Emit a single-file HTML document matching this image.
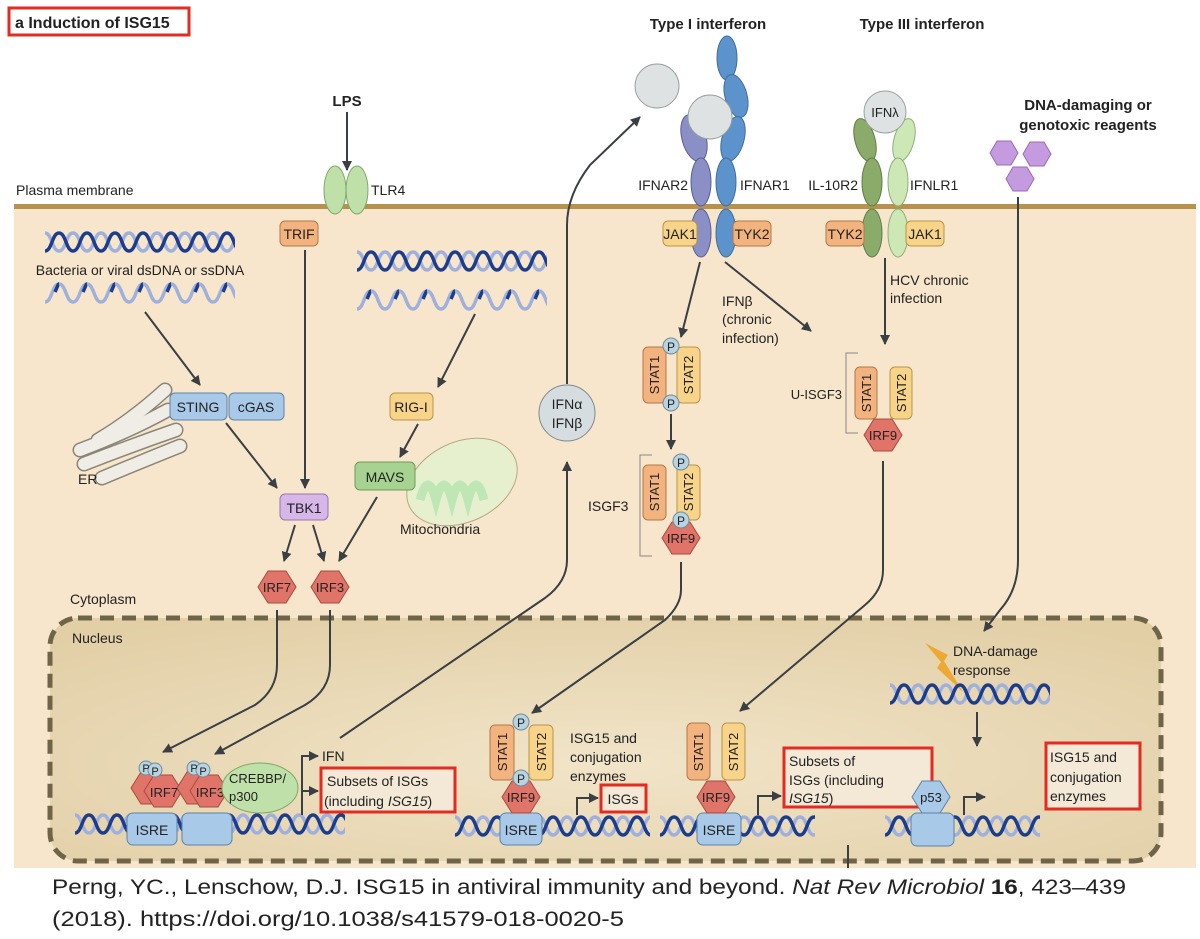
<!DOCTYPE html>
<html><head><meta charset="utf-8"><style>
html,body{margin:0;padding:0;background:#fff}
svg{display:block}
text{font-family:"Liberation Sans",sans-serif;fill:#222}
.l{font-size:14px}
.s{font-size:13px}
.b{font-weight:bold}
</style></head><body>
<svg width="1200" height="939" viewBox="0 0 1200 939" xmlns="http://www.w3.org/2000/svg">
<defs>
<pattern id="dh" patternUnits="userSpaceOnUse" width="28" height="22">
<path d="M0,2 C7,2 7,20 14,20 C21,20 21,2 28,2" stroke="#9fb0dc" stroke-width="3.5" fill="none"/>
<path d="M0,20 C7,20 7,2 14,2 C21,2 21,20 28,20" stroke="#1c3d8c" stroke-width="3.5" fill="none"/>
</pattern>
<pattern id="ss" patternUnits="userSpaceOnUse" width="28" height="22">
<path d="M0,20 C7,20 7,2 14,2 C21,2 21,20 28,20" stroke="#9fb0dc" stroke-width="3.5" fill="none"/>
<path d="M10,10 C12,6 13,2 14,2" stroke="#1c3d8c" stroke-width="3.5" fill="none"/>
</pattern>
<marker id="ar" viewBox="0 0 10 10" refX="9" refY="5" markerWidth="5" markerHeight="5" orient="auto"><path d="M0,0 L10,5 L0,10 z" fill="#3a3f44"/></marker>
<path id="hx" d="M-19,0 L-9,-16 L9,-16 L19,0 L9,16 L-9,16 Z"/>
<path id="hs" d="M-14,0 L-7,-12 L7,-12 L14,0 L7,12 L-7,12 Z"/>
<radialGradient id="nuc" cx="0.5" cy="0.6" r="0.7"><stop offset="0" stop-color="#f1e4c8"/><stop offset="1" stop-color="#e2cfa6"/></radialGradient>
</defs>

<rect x="9" y="8" width="180" height="27" fill="#fff" stroke="#e32b22" stroke-width="3"/>
<text x="15" y="28" class="b" font-size="16">a  Induction of ISG15</text>
<text x="708" y="29" class="b" font-size="15" text-anchor="middle">Type I interferon</text>
<text x="922" y="29" class="b" font-size="15" text-anchor="middle">Type III interferon</text>
<text x="347" y="106" class="b" font-size="15" text-anchor="middle">LPS</text>
<line x1="347" y1="112" x2="347" y2="170" stroke="#3a3f44" stroke-width="2" marker-end="url(#ar)"/>
<text x="1088" y="110" class="b" font-size="15" text-anchor="middle">DNA-damaging or</text>
<text x="1088" y="130" class="b" font-size="15" text-anchor="middle">genotoxic reagents</text>
<g fill="#c59be0" stroke="#9a6ab8"><use href="#hs" x="1004" y="153"/><use href="#hs" x="1037" y="154"/><use href="#hs" x="1020" y="179"/></g>

<rect x="14" y="207" width="1182" height="661" fill="#f7e6cb"/>
<rect x="14" y="204" width="1182" height="5" fill="#b8924c"/>
<text x="16" y="195" class="l">Plasma membrane</text>

<rect x="50" y="618" width="1111" height="243" rx="28" fill="url(#nuc)" stroke="#6f6448" stroke-width="5" stroke-dasharray="14 8"/>
<text x="70" y="604" class="l">Cytoplasm</text>
<text x="72" y="643" class="l">Nucleus</text>

<g fill="#bfe0a8" stroke="#7fa86a"><ellipse cx="335" cy="190" rx="11" ry="24"/><ellipse cx="357" cy="190" rx="11" ry="24"/></g>
<text x="371" y="195" class="l">TLR4</text>
<rect x="280" y="221" width="38" height="25" rx="5" fill="#f2b37e" stroke="#b07a48"/><text x="299" y="239" class="l" text-anchor="middle">TRIF</text>

<g transform="translate(45,231)"><rect width="190" height="22" fill="url(#dh)"/></g>
<text x="140" y="275" class="l" text-anchor="middle">Bacteria or viral dsDNA or ssDNA</text>
<g transform="translate(45,282)"><rect width="190" height="22" fill="url(#ss)"/></g>
<g transform="translate(357,250)"><rect width="190" height="22" fill="url(#dh)"/></g>
<g transform="translate(357,289)"><rect width="190" height="22" fill="url(#ss)"/></g>

<!-- ER -->
<g fill="none" stroke-linecap="round">
<g stroke="#8a8578" stroke-width="15">
<path d="M102,478 Q140,462 180,446"/><path d="M84,464 Q130,446 176,430"/><path d="M80,450 Q128,432 168,410"/><path d="M98,440 Q132,420 165,390"/>
</g>
<g stroke="#efede6" stroke-width="12">
<path d="M102,478 Q140,462 180,446"/><path d="M84,464 Q130,446 176,430"/><path d="M80,450 Q128,432 168,410"/><path d="M98,440 Q132,420 165,390"/>
</g>
</g>
<text x="78" y="484" class="l">ER</text>

<line x1="145" y1="312" x2="200" y2="385" stroke="#3a3f44" stroke-width="2" marker-end="url(#ar)"/>
<rect x="170" y="393" width="57" height="27" rx="5" fill="#a9c9e8" stroke="#5d83a8"/><text x="198" y="412" class="l" text-anchor="middle">STING</text>
<rect x="229" y="393" width="55" height="27" rx="5" fill="#a9c9e8" stroke="#5d83a8"/><text x="256" y="412" class="l" text-anchor="middle">cGAS</text>
<line x1="226" y1="423" x2="277" y2="488" stroke="#3a3f44" stroke-width="2" marker-end="url(#ar)"/>
<line x1="305" y1="250" x2="305" y2="488" stroke="#3a3f44" stroke-width="2" marker-end="url(#ar)"/>
<rect x="280" y="494" width="48" height="26" rx="5" fill="#d7b6e8" stroke="#9a74b0"/><text x="304" y="513" class="l" text-anchor="middle">TBK1</text>

<line x1="475" y1="314" x2="438" y2="387" stroke="#3a3f44" stroke-width="2" marker-end="url(#ar)"/>
<rect x="390" y="393" width="43" height="27" rx="5" fill="#f8d48a" stroke="#b9954a"/><text x="411" y="412" class="l" text-anchor="middle">RIG-I</text>
<line x1="418" y1="424" x2="400" y2="457" stroke="#3a3f44" stroke-width="2" marker-end="url(#ar)"/>
<ellipse cx="462" cy="482" rx="58" ry="40" transform="rotate(-25 462 482)" fill="#e6f0cf" stroke="#b7a780"/>
<path d="M420,500 q8,-30 16,0 q8,-30 16,0 q8,-30 16,0 q8,-30 16,0" stroke="#bfe7b6" stroke-width="9" fill="none"/>
<rect x="355" y="462" width="60" height="28" rx="5" fill="#a6d390" stroke="#6f9a5c"/><text x="385" y="482" class="l" text-anchor="middle">MAVS</text>
<text x="400" y="534" class="l">Mitochondria</text>

<line x1="295" y1="525" x2="284" y2="561" stroke="#3a3f44" stroke-width="2" marker-end="url(#ar)"/>
<line x1="313" y1="525" x2="324" y2="561" stroke="#3a3f44" stroke-width="2" marker-end="url(#ar)"/>
<line x1="377" y1="497" x2="339" y2="561" stroke="#3a3f44" stroke-width="2" marker-end="url(#ar)"/>
<g fill="#e07468" stroke="#a84a40"><use href="#hx" x="277" y="587"/><use href="#hx" x="330" y="587"/></g>
<text x="277" y="592" class="s" text-anchor="middle">IRF7</text><text x="330" y="592" class="s" text-anchor="middle">IRF3</text>

<path d="M277,610 L277,665 Q277,690 255,705 L163,752" stroke="#3a3f44" stroke-width="2" fill="none" marker-end="url(#ar)"/>
<path d="M330,610 L330,665 Q330,690 305,705 L215,754" stroke="#3a3f44" stroke-width="2" fill="none" marker-end="url(#ar)"/>

<path d="M340,738 L545,598 Q567,582 567,560 L567,462" stroke="#3a3f44" stroke-width="2" fill="none" marker-end="url(#ar)"/>
<circle cx="567" cy="413" r="28" fill="#d6dde0" stroke="#7c8a90"/>
<text x="567" y="409" class="l" text-anchor="middle">IFNα</text><text x="567" y="428" class="l" text-anchor="middle">IFNβ</text>
<path d="M567,384 L567,225 Q567,195 590,165 L640,117" stroke="#3a3f44" stroke-width="2" fill="none" marker-end="url(#ar)"/>
<circle cx="657" cy="86" r="22" fill="#dfe2e2" stroke="#9aa0a0"/>

<g fill="#8a8fc6" stroke="#5a5e96"><ellipse cx="694" cy="138" rx="12" ry="24" transform="rotate(-15 694 138)"/><ellipse cx="701" cy="182" rx="10" ry="24"/><ellipse cx="701" cy="233" rx="10" ry="24"/></g>
<g fill="#5d93cc" stroke="#3e6e9e"><ellipse cx="727" cy="58" rx="10" ry="22"/><ellipse cx="736" cy="96" rx="11" ry="22" transform="rotate(-15 736 96)"/><ellipse cx="733" cy="139" rx="11" ry="23" transform="rotate(15 733 139)"/><ellipse cx="726" cy="182" rx="10" ry="24"/><ellipse cx="726" cy="233" rx="10" ry="24"/></g>
<circle cx="710" cy="117" r="22" fill="#dfe2e2" stroke="#9aa0a0"/>
<text x="688" y="190" class="l" text-anchor="end">IFNAR2</text><text x="740" y="190" class="l">IFNAR1</text>
<rect x="663" y="221" width="34" height="25" rx="5" fill="#f8d48a" stroke="#b9954a"/><text x="680" y="239" class="l" text-anchor="middle">JAK1</text>
<rect x="733" y="221" width="38" height="25" rx="5" fill="#f2b37e" stroke="#b07a48"/><text x="752" y="239" class="l" text-anchor="middle">TYK2</text>

<g fill="#8aab6a" stroke="#5e7e48"><ellipse cx="865" cy="140" rx="10" ry="22" transform="rotate(-15 865 140)"/><ellipse cx="872" cy="182" rx="10" ry="24"/><ellipse cx="872" cy="233" rx="10" ry="24"/></g>
<g fill="#cde8b4" stroke="#8cb07a"><ellipse cx="904" cy="140" rx="10" ry="22" transform="rotate(15 904 140)"/><ellipse cx="898" cy="182" rx="10" ry="24"/><ellipse cx="898" cy="233" rx="10" ry="24"/></g>
<circle cx="885" cy="112" r="21" fill="#dfe2e2" stroke="#9aa0a0"/><text x="885" y="117" class="s" text-anchor="middle">IFNλ</text>
<text x="858" y="190" class="l" text-anchor="end">IL-10R2</text><text x="910" y="190" class="l">IFNLR1</text>
<rect x="826" y="221" width="38" height="25" rx="5" fill="#f2b37e" stroke="#b07a48"/><text x="845" y="239" class="l" text-anchor="middle">TYK2</text>
<rect x="906" y="221" width="38" height="25" rx="5" fill="#f8d48a" stroke="#b9954a"/><text x="925" y="239" class="l" text-anchor="middle">JAK1</text>

<line x1="700" y1="262" x2="681" y2="337" stroke="#3a3f44" stroke-width="2" marker-end="url(#ar)"/>
<line x1="725" y1="262" x2="811" y2="331" stroke="#3a3f44" stroke-width="2" marker-end="url(#ar)"/>
<text x="722" y="306" class="l">IFNβ</text><text x="722" y="324" class="l">(chronic</text><text x="722" y="343" class="l">infection)</text>
<line x1="885" y1="258" x2="885" y2="344" stroke="#3a3f44" stroke-width="2" marker-end="url(#ar)"/>
<text x="890" y="285" class="l">HCV chronic</text><text x="890" y="303" class="l">infection</text>

<rect x="643" y="347" width="23" height="56" rx="5" fill="#f2b37e" stroke="#b07a48"/>
<rect x="677" y="347" width="23" height="56" rx="5" fill="#f8d48a" stroke="#b9954a"/>
<text transform="translate(659,375) rotate(-90)" class="s" text-anchor="middle">STAT1</text>
<text transform="translate(693,375) rotate(-90)" class="s" text-anchor="middle">STAT2</text>
<circle cx="671" cy="346" r="8" fill="#b9d3e0" stroke="#6f8d9c"/><text x="671" y="351" font-size="12" text-anchor="middle">P</text>
<circle cx="671" cy="403" r="8" fill="#b9d3e0" stroke="#6f8d9c"/><text x="671" y="408" font-size="12" text-anchor="middle">P</text>
<line x1="671" y1="414" x2="671" y2="449" stroke="#3a3f44" stroke-width="2" marker-end="url(#ar)"/>
<path d="M652,455 L640,455 L640,556 L652,556" stroke="#888" fill="none"/>
<text x="588" y="511" class="l">ISGF3</text>
<rect x="643" y="465" width="23" height="55" rx="5" fill="#f2b37e" stroke="#b07a48"/>
<rect x="677" y="465" width="23" height="55" rx="5" fill="#f8d48a" stroke="#b9954a"/>
<text transform="translate(659,492) rotate(-90)" class="s" text-anchor="middle">STAT1</text>
<text transform="translate(693,492) rotate(-90)" class="s" text-anchor="middle">STAT2</text>
<use href="#hx" x="681" y="538" fill="#e07468" stroke="#a84a40"/><text x="681" y="543" class="s" text-anchor="middle">IRF9</text>
<circle cx="681" cy="462" r="8" fill="#b9d3e0" stroke="#6f8d9c"/><text x="681" y="467" font-size="12" text-anchor="middle">P</text>
<circle cx="681" cy="520" r="8" fill="#b9d3e0" stroke="#6f8d9c"/><text x="681" y="525" font-size="12" text-anchor="middle">P</text>
<path d="M681,562 L681,590 Q681,605 665,620 L532,713" stroke="#3a3f44" stroke-width="2" fill="none" marker-end="url(#ar)"/>

<path d="M858,353 L846,353 L846,433 L858,433" stroke="#888" fill="none"/>
<text x="842" y="399" class="s" text-anchor="end">U-ISGF3</text>
<rect x="855" y="367" width="22" height="52" rx="5" fill="#f2b37e" stroke="#b07a48"/>
<rect x="890" y="367" width="22" height="52" rx="5" fill="#f8d48a" stroke="#b9954a"/>
<text transform="translate(871,393) rotate(-90)" class="s" text-anchor="middle">STAT1</text>
<text transform="translate(906,393) rotate(-90)" class="s" text-anchor="middle">STAT2</text>
<use href="#hx" x="883" y="435" fill="#e07468" stroke="#a84a40"/><text x="883" y="440" class="s" text-anchor="middle">IRF9</text>
<path d="M883,461 L883,570 Q883,590 865,605 L740,711" stroke="#3a3f44" stroke-width="2" fill="none" marker-end="url(#ar)"/>

<path d="M1018,197 L1018,560 Q1018,590 1000,610 L984,631" stroke="#3a3f44" stroke-width="2" fill="none" marker-end="url(#ar)"/>

<g transform="translate(75,813)"><rect width="270" height="22" fill="url(#dh)"/></g>
<rect x="127" y="813" width="50" height="32" rx="6" fill="#a9c9e8" stroke="#5d83a8"/><text x="152" y="835" class="l" text-anchor="middle">ISRE</text>
<rect x="182" y="813" width="50" height="32" rx="6" fill="#a9c9e8" stroke="#5d83a8"/>
<g fill="#e07468" stroke="#a84a40"><use href="#hx" x="150" y="788"/><use href="#hx" x="163" y="791"/><use href="#hx" x="196" y="788"/><use href="#hx" x="209" y="791"/></g>
<text x="164" y="797" class="s" text-anchor="middle">IRF7</text><text x="210" y="797" class="s" text-anchor="middle">IRF3</text>
<g fill="#b9d3e0" stroke="#6f8d9c"><circle cx="146" cy="768" r="7"/><circle cx="155" cy="770" r="7"/><circle cx="194" cy="768" r="7"/><circle cx="203" cy="770" r="7"/></g>
<g font-size="11"><text x="146" y="772" text-anchor="middle">P</text><text x="155" y="775" text-anchor="middle">P</text><text x="194" y="772" text-anchor="middle">P</text><text x="203" y="775" text-anchor="middle">P</text></g>
<ellipse cx="260" cy="788" rx="38" ry="25" fill="#bfe0a8" stroke="#7fa86a"/>
<text x="229" y="783" class="s">CREBBP/</text><text x="229" y="801" class="s">p300</text>
<path d="M302,815 L302,756 L318,756" stroke="#3a3f44" stroke-width="2" fill="none" marker-end="url(#ar)"/>
<path d="M302,791 L318,791" stroke="#3a3f44" stroke-width="2" fill="none" marker-end="url(#ar)"/>
<text x="322" y="761" class="l">IFN</text>
<rect x="321" y="768" width="134" height="44" fill="#f3e9d6" stroke="#e32b22" stroke-width="3"/>
<text x="327" y="786" class="l">Subsets of ISGs</text><text x="324" y="806" class="l">(including <tspan font-style="italic">ISG15</tspan>)</text>

<g transform="translate(455,815)"><rect width="195" height="22" fill="url(#dh)"/></g>
<rect x="500" y="813" width="42" height="32" rx="6" fill="#a9c9e8" stroke="#5d83a8"/><text x="521" y="835" class="l" text-anchor="middle">ISRE</text>
<rect x="490" y="725" width="24" height="55" rx="5" fill="#f2b37e" stroke="#b07a48"/>
<rect x="529" y="725" width="24" height="55" rx="5" fill="#f8d48a" stroke="#b9954a"/>
<text transform="translate(507,752) rotate(-90)" class="s" text-anchor="middle">STAT1</text>
<text transform="translate(546,752) rotate(-90)" class="s" text-anchor="middle">STAT2</text>
<use href="#hx" x="521" y="797" fill="#e07468" stroke="#a84a40"/><text x="521" y="802" class="s" text-anchor="middle">IRF9</text>
<circle cx="521" cy="722" r="8" fill="#b9d3e0" stroke="#6f8d9c"/><text x="521" y="727" font-size="12" text-anchor="middle">P</text>
<circle cx="521" cy="778" r="8" fill="#b9d3e0" stroke="#6f8d9c"/><text x="521" y="783" font-size="12" text-anchor="middle">P</text>
<text x="570" y="743" class="l">ISG15 and</text><text x="570" y="762" class="l">conjugation</text><text x="570" y="781" class="l">enzymes</text>
<path d="M577,815 L577,798 L598,798" stroke="#3a3f44" stroke-width="2" fill="none" marker-end="url(#ar)"/>
<rect x="601" y="785" width="45" height="27" fill="#f3e9d6" stroke="#e32b22" stroke-width="3"/><text x="623" y="804" class="l" text-anchor="middle">ISGs</text>

<g transform="translate(660,815)"><rect width="155" height="22" fill="url(#dh)"/></g>
<rect x="697" y="813" width="44" height="32" rx="6" fill="#a9c9e8" stroke="#5d83a8"/><text x="719" y="835" class="l" text-anchor="middle">ISRE</text>
<rect x="687" y="723" width="23" height="57" rx="5" fill="#f2b37e" stroke="#b07a48"/>
<rect x="722" y="723" width="23" height="57" rx="5" fill="#f8d48a" stroke="#b9954a"/>
<text transform="translate(703,752) rotate(-90)" class="s" text-anchor="middle">STAT1</text>
<text transform="translate(738,752) rotate(-90)" class="s" text-anchor="middle">STAT2</text>
<use href="#hx" x="716" y="797" fill="#e07468" stroke="#a84a40"/><text x="716" y="802" class="s" text-anchor="middle">IRF9</text>
<path d="M758,815 L758,796 L781,796" stroke="#3a3f44" stroke-width="2" fill="none" marker-end="url(#ar)"/>
<rect x="784" y="748" width="148" height="59" fill="#f3e9d6" stroke="#e32b22" stroke-width="3"/>
<text x="789" y="766" class="l">Subsets of</text><text x="789" y="785" class="l">ISGs (including</text><text x="789" y="803" class="l" font-style="italic">ISG15<tspan font-style="normal">)</tspan></text>

<path d="M925,643 L948,655 L944,661 L963,692 L937,668 L941,662 Z" fill="#eea935"/>
<text x="953" y="656" class="l">DNA-damage</text><text x="953" y="675" class="l">response</text>
<g transform="translate(890,683)"><rect width="160" height="22" fill="url(#dh)"/></g>
<line x1="977" y1="712" x2="977" y2="746" stroke="#3a3f44" stroke-width="2" marker-end="url(#ar)"/>
<g transform="translate(885,815)"><rect width="155" height="22" fill="url(#dh)"/></g>
<rect x="911" y="813" width="43" height="33" rx="6" fill="#a9c9e8" stroke="#5d83a8"/>
<use href="#hx" x="931" y="797" fill="#a9c9e8" stroke="#5d83a8"/><text x="931" y="802" class="s" text-anchor="middle">p53</text>
<path d="M964,815 L964,797 L985,797" stroke="#3a3f44" stroke-width="2" fill="none" marker-end="url(#ar)"/>
<rect x="1046" y="743" width="94" height="66" fill="#f3e9d6" stroke="#e32b22" stroke-width="3"/>
<text x="1050" y="762" class="l">ISG15 and</text><text x="1050" y="782" class="l">conjugation</text><text x="1050" y="801" class="l">enzymes</text>
<line x1="848" y1="845" x2="848" y2="868" stroke="#3a3f44" stroke-width="2"/>

<text x="52" y="894" font-size="21" textLength="1074" lengthAdjust="spacingAndGlyphs">Perng, YC., Lenschow, D.J. ISG15 in antiviral immunity and beyond. <tspan font-style="italic">Nat Rev Microbiol</tspan> <tspan font-weight="bold">16</tspan>, 423–439</text>
<text x="52" y="926" font-size="21" textLength="572" lengthAdjust="spacingAndGlyphs">(2018). https://doi.org/10.1038/s41579-018-0020-5</text>
</svg>
</body></html>
